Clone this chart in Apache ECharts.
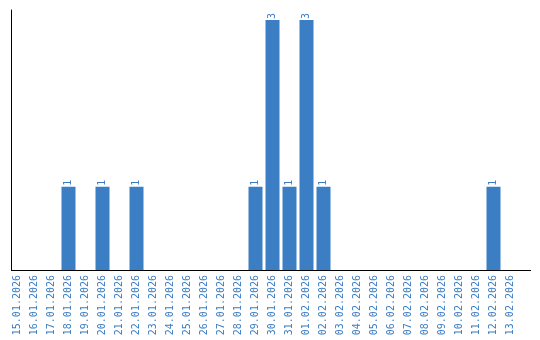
<!DOCTYPE html>
<html>
<head>
<meta charset="utf-8">
<script src="https://cdn.jsdelivr.net/npm/echarts@6/dist/echarts.min.js"></script>
<style>html,body{margin:0;padding:0;background:#fff}#c{width:540px;height:340px}</style>
</head>
<body>
<div id="c"></div>
<script>
const categories = ["15.01.2026","16.01.2026","17.01.2026","18.01.2026","19.01.2026","20.01.2026","21.01.2026","22.01.2026","23.01.2026","24.01.2026","25.01.2026","26.01.2026","27.01.2026","28.01.2026","29.01.2026","30.01.2026","31.01.2026","01.02.2026","02.02.2026","03.02.2026","04.02.2026","05.02.2026","06.02.2026","07.02.2026","08.02.2026","09.02.2026","10.02.2026","11.02.2026","12.02.2026","13.02.2026"];
const counts = [0,0,0,1,0,1,0,1,0,0,0,0,0,0,1,3,1,3,1,0,0,0,0,0,0,0,0,0,1,0];

const chart = echarts.init(document.getElementById('c'), null, {renderer:'canvas'});
chart.setOption({
  animation: false,
  grid: {left: 9, top: 10, width: 510, height: 260},
  xAxis: {
    type: 'category',
    data: categories,
    axisLine: {show: false},
    axisTick: {show: false},
    axisLabel: {rotate: 90, interval: 0, color: '#3a7cc1', fontFamily: 'DejaVu Sans Mono', fontSize: 10, margin: 5}
  },
  yAxis: {
    type: 'value',
    min: 0, max: 3.12,
    offset: -2,
    axisLine: {show: true, lineStyle: {color: '#000', width: 1}},
    axisTick: {show: false},
    axisLabel: {show: false},
    splitLine: {show: false}
  },
  series: [{
    type: 'bar',
    data: counts.map(v => v === 0 ? null : v),
    barWidth: 14,
    itemStyle: {color: '#3b7ec3'},
    label: {
      show: true, position: 'top', rotate: 90, align: 'left', verticalAlign: 'middle',
      distance: 1, color: '#3a7cc1', fontFamily: 'DejaVu Sans Mono', fontSize: 10
    }
  }],
  graphic: [{
    type: 'line', silent: true,
    shape: {x1: 11, y1: 270.5, x2: 531, y2: 270.5},
    style: {stroke: '#000', lineWidth: 1}
  }]
});
</script>
</body>
</html>
